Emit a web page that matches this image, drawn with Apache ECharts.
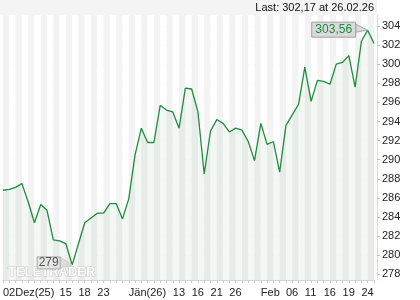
<!DOCTYPE html>
<html><head><meta charset="utf-8">
<script src="https://cdn.jsdelivr.net/npm/echarts@6/dist/echarts.min.js"></script>
<style>html,body{margin:0;padding:0;background:#fff}#c{width:420px;height:300px}</style>
</head><body><div id="c"></div>
<script>
const categories = [
 '2025-12-02','2025-12-03','2025-12-04','2025-12-05','2025-12-08','2025-12-09','2025-12-10','2025-12-11','2025-12-12',
 '2025-12-15','2025-12-16','2025-12-17','2025-12-18','2025-12-19','2025-12-22','2025-12-23','2025-12-24','2025-12-29',
 '2025-12-30','2025-12-31',
 '2026-01-02','2026-01-05','2026-01-06','2026-01-07','2026-01-08','2026-01-09','2026-01-12','2026-01-13','2026-01-14',
 '2026-01-15','2026-01-16','2026-01-19','2026-01-20','2026-01-21','2026-01-22','2026-01-23','2026-01-26','2026-01-27',
 '2026-01-28','2026-01-29','2026-01-30',
 '2026-02-02','2026-02-03','2026-02-04','2026-02-05','2026-02-06','2026-02-09','2026-02-10','2026-02-11','2026-02-12',
 '2026-02-13','2026-02-16','2026-02-17','2026-02-18','2026-02-19','2026-02-20','2026-02-23','2026-02-24','2026-02-25',
 '2026-02-26'
];
const values = [
 286.8,286.9,287.1,287.5,285.6,283.4,285.3,284.7,281.6,281.5,
 281.2,278.98,281.2,283.4,283.9,284.4,284.4,285.4,285.4,283.8,
 285.9,290.5,293.3,291.8,291.8,295.7,295.2,295.0,293.3,297.5,
 297.4,295.0,288.5,293.0,294.2,293.8,292.9,293.3,293.1,291.9,
 289.9,293.8,291.6,291.9,288.7,293.6,294.7,295.8,299.7,296.1,
 298.3,298.2,297.9,300.0,300.2,300.9,297.6,302.4,303.56,302.17
];
const xLabelIdx = [0, 9, 12, 15, 20, 27, 30, 33, 36, 41, 45, 48, 51, 54, 57];
const xLabelText = ['02Dez(25)', '15', '18', '23', 'Jän(26)', '13', '16', '21', '26', 'Feb', '06', '11', '16', '19', '24'];
const yTicks = [278, 280, 282, 284, 286, 288, 290, 292, 294, 296, 298, 300, 302, 304];
const lastText = 'Last: 302,17 at 26.02.26';
const maxText = '303,56';
const minText = '279';

const chart = echarts.init(document.getElementById('c'));
const font = 'Liberation Sans, Arial, sans-serif';
chart.setOption({
  animation: false,
  backgroundColor: '#ffffff',
  grid: { left: 3, right: 46, top: 15, bottom: 20 },
  xAxis: {
    type: 'category', data: categories, boundaryGap: false,
    axisLine: { show: true, lineStyle: { color: '#d6d6d6' } },
    axisTick: { show: true, interval: 0, length: 3, lineStyle: { color: '#cfcfcf' } },
    axisLabel: {
      interval: (i) => xLabelIdx.indexOf(i) >= 0,
      formatter: (v, i) => { const k = xLabelIdx.indexOf(i); return k >= 0 ? xLabelText[k] : ''; },
      align: 'left', margin: 7, color: '#222', fontSize: 11, fontFamily: font
    },
    splitLine: { show: false },
    splitArea: { show: true, interval: 0, areaStyle: { color: ['#f3f3f3', '#ffffff'] } }
  },
  yAxis: {
    type: 'value', position: 'right', min: 277.4, max: 305.15, offset: 3,
    axisLine: { show: true, lineStyle: { color: '#dcdcdc' } },
    axisTick: { show: true, length: 3, customValues: yTicks, lineStyle: { color: '#bdbdbd' } },
    axisLabel: { customValues: yTicks, margin: 5, color: '#222', fontSize: 11, fontFamily: font, formatter: (v) => String(v) },
    splitLine: { show: true, lineStyle: { color: '#e2e2e2', width: 1 } }
  },
  series: [{
    type: 'line', data: values, symbol: 'none',
    lineStyle: { color: '#1e8c3c', width: 1.3 },
    areaStyle: { color: 'rgba(50,125,50,0.08)', origin: 'start' },
    z: 3
  }]
});

const pMax = chart.convertToPixel({ seriesIndex: 0 }, [58, values[58]]);
const pMin = chart.convertToPixel({ seriesIndex: 0 }, [11, values[11]]);
chart.setOption({
  graphic: [
    { type: 'rect', shape: { x: 0, y: 0, width: 377, height: 15 }, style: { fill: '#f4f4f4' }, z: 0, silent: true },
    { type: 'text', x: 374, y: 8, style: { text: lastText, align: 'right', verticalAlign: 'middle', fill: '#111', font: '11px ' + font }, z: 10 },
    { type: 'text', x: 8, y: 272, style: { text: 'TELETRADER', verticalAlign: 'middle', fill: '#ffffff', stroke: '#c4c4c4', lineWidth: 1, font: 'bold 13px ' + font, opacity: 0.9 }, z: 10 },
    { type: 'polygon', shape: { points: [[pMax[0] - 12, pMax[1] - 6], [pMax[0], pMax[1]], [pMax[0] - 12, pMax[1] + 2]] }, style: { fill: '#d9d9d9', stroke: '#a9a9a9', lineWidth: 1 }, z: 11 },
    { type: 'rect', shape: { x: pMax[0] - 56, y: pMax[1] - 8, width: 44, height: 15 }, style: { fill: '#dadada', stroke: '#a0a0a0', lineWidth: 1 }, z: 12 },
    { type: 'text', x: pMax[0] - 34, y: pMax[1] - 0.5, style: { text: maxText, align: 'center', verticalAlign: 'middle', fill: '#1e8c3c', font: '12px ' + font }, z: 13 },
    { type: 'polygon', shape: { points: [[pMin[0] - 12, pMin[1] - 8], [pMin[0], pMin[1]], [pMin[0] - 12, pMin[1] + 3]] }, style: { fill: 'rgba(215,215,215,0.8)', stroke: 'rgba(200,200,200,0.8)', lineWidth: 1 }, z: 11 },
    { type: 'rect', shape: { x: pMin[0] - 35, y: pMin[1] - 8, width: 23, height: 12 }, style: { fill: 'rgba(225,225,225,0.7)', stroke: '#a8a8a8', lineWidth: 1 }, z: 12 },
    { type: 'text', x: pMin[0] - 23.5, y: pMin[1] - 2, style: { text: minText, align: 'center', verticalAlign: 'middle', fill: '#555', font: '12px ' + font }, z: 13 }
  ]
});
</script></body></html>
